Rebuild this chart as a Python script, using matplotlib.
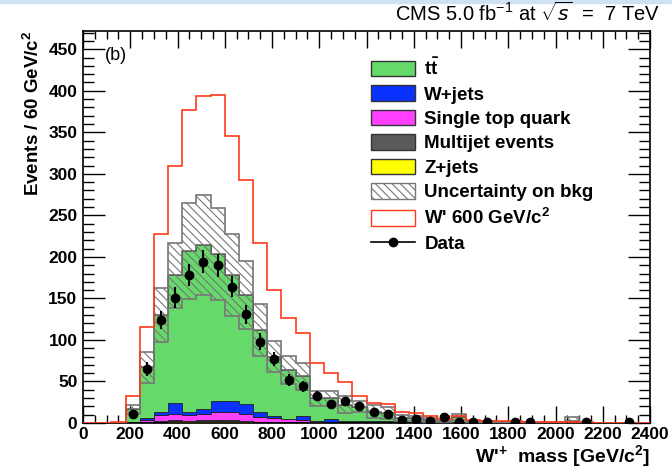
import numpy as np
import matplotlib
matplotlib.use("Agg")
import matplotlib.pyplot as plt
from matplotlib.patches import Patch, Rectangle
from matplotlib.lines import Line2D
from matplotlib.ticker import MultipleLocator

plt.rcParams['font.family'] = ['Liberation Sans', 'DejaVu Sans']
plt.rcParams['mathtext.fontset'] = 'custom'
plt.rcParams['mathtext.rm'] = 'Liberation Sans'
plt.rcParams['mathtext.bf'] = 'Liberation Sans:bold'
plt.rcParams['hatch.linewidth'] = 0.8
plt.rcParams['hatch.color'] = '#555555'

# 60 GeV bins from 0 to 2400
edges = np.arange(0, 2460, 60)

zjets = [0, 0, 0, 0.2, 0.4, 1.8, 2.4, 2.2, 2.4, 2.6, 2.4, 2.0, 1.2, 0.8, 0.6, 0.5, 0.3, 0.2, 0.2, 0.1,
         0.1, 0.1, 0, 0, 0, 0, 0, 0, 0, 0, 0, 0, 0, 0, 0, 0, 0, 0, 0, 0]
multijet = [0, 0, 0, 0.1, 0.3, 0.8, 0.8, 0.8, 0.8, 0.8, 0.8, 0.8, 0.6, 0.5, 0.4, 0.4, 0.2, 0.2, 0.1, 0.1,
            0, 0, 0, 0, 0, 0, 0, 0, 0, 0, 0, 0, 0, 0, 0, 0, 0, 0, 0, 0]
singletop = [0, 0, 0, 0.5, 2.5, 7.0, 8.0, 6.6, 7.2, 9.9, 10.1, 7.6, 5.8, 4.3, 3.4, 3.1, 1.5, 1.4, 1.1, 1.0,
             0.7, 0.7, 0.5, 0.5, 0.4, 0.3, 0.4, 0.2, 0.2, 0.1, 0.1, 0, 0, 0, 0, 0, 0, 0, 0, 0]
wjets = [0, 0, 0, 0.7, 2.8, 3.4, 12.3, 3.9, 6.6, 12.7, 13.7, 12.1, 5.9, 2.4, 0.6, 4.0, 1.0, 2.6, 1.0, 1.8,
         1.2, 1.7, 0.7, 0.7, 0.6, 0.5, 1.2, 0.3, 0.3, 0.2, 0.2, 0.1, 0.1, 0.1, 1.8, 0, 0, 0, 0, 0]
ttbar = [0, 0, 0, 15.0, 61, 117, 154.5, 194, 197.5, 177.6, 151, 131.5, 98.5, 72, 59, 48, 27, 25.6, 19.6, 16.7,
         11.6, 9.5, 4.8, 4.3, 3.0, 1.7, 5.4, 1.0, 0.7, 0.7, 0.5, 0.5, 0.4, 0.3, 0.4, 0.2, 0.1, 0.1, 0.1, 0.1]
bkg_unc = [0, 0, 0, 5.5, 19, 32, 39, 58, 60, 55, 49, 41, 31, 18.5, 17, 16.5, 9, 9, 10, 7,
           7.5, 7, 3.5, 3.5, 2.4, 1.5, 3.8, 1.0, 0.8, 0.6, 0.5, 0.4, 0.3, 0.3, 4.6, 0.2, 0.1, 0.1, 0.1, 0.1]
wprime = [0, 0, 1, 32, 115, 227, 310, 377, 394, 395, 345, 293, 217, 160, 126, 108, 72, 60, 49, 32,
          24, 23, 13, 11.6, 8.4, 4.8, 8.4, 3.6, 2.6, 2.4, 2.0, 1.6, 1.2, 1.0, 1.0, 0.8, 0.6, 0.5, 0.5, 0.4]
data = [0, 0, 0, 11, 65, 124, 151, 178, 194, 190, 164, 131, 98, 77, 52, 44, 33, 23, 26, 20,
        13, 11, 4, 5, 2, 7, 1, 1, 1, 0, 1, 1, 0, 0, 0, 1, 0, 0, 1, 0]

layers = [("Z+jets", zjets, '#ffff00'),
          ("Multijet events", multijet, '#5a5a5a'),
          ("Single top quark", singletop, '#ff40ff'),
          ("W+jets", wjets, '#0a32ff'),
          (r"$\mathbf{t\bar{t}}$", ttbar, '#66d96b')]

fig = plt.figure(figsize=(6.72, 4.70), dpi=100)
fig.patches.append(Rectangle((0, 0.993), 1, 0.007, transform=fig.transFigure,
                             color='#cfe2f3', zorder=0))
ax = fig.add_axes([83/672, 1 - 423/470, (650-83)/672, (423-31)/470])

# stacked backgrounds
base = np.zeros(len(edges) - 1)
for name, vals, col in layers:
    top = base + np.array(vals)
    ax.stairs(top, edges, baseline=base, fill=True, facecolor=col,
              edgecolor='#222222', linewidth=0.6, zorder=2)
    base = top
total = base
ax.stairs(total, edges, color='#666666', linewidth=1.2, zorder=3)

# uncertainty band
unc = np.array(bkg_unc)
ax.stairs(total + unc, edges, baseline=total - unc, fill=True, facecolor='none',
          edgecolor='#777777', hatch='\\\\\\\\', linewidth=1.2, zorder=4)

# W' signal
ax.stairs(wprime, edges, color='#ff3a1a', linewidth=1.2, zorder=5)

# data
d = np.array(data, dtype=float)
centers = 0.5 * (edges[:-1] + edges[1:])
m = d > 0
ax.errorbar(centers[m], d[m], yerr=np.sqrt(d[m]), fmt='o', color='black',
            markersize=6, elinewidth=1.5, capsize=0, zorder=6)

ax.set_xlim(0, 2400)
ax.set_ylim(0, 472)
ax.xaxis.set_major_locator(MultipleLocator(200))
ax.xaxis.set_minor_locator(MultipleLocator(50))
ax.yaxis.set_major_locator(MultipleLocator(50))
ax.yaxis.set_minor_locator(MultipleLocator(10))
ax.tick_params(axis='both', which='both', direction='in', top=True, right=True, width=1)
ax.tick_params(axis='x', which='major', length=12, pad=3)
ax.tick_params(axis='x', which='minor', length=6)
ax.tick_params(axis='y', which='major', length=16, pad=4)
ax.tick_params(axis='y', which='minor', length=8)
for lab in ax.get_xticklabels() + ax.get_yticklabels():
    lab.set_fontweight('bold')
    lab.set_fontsize(12.5)
for sp in ax.spines.values():
    sp.set_linewidth(1.2)

ax.set_xlabel(r"W'$^{\mathbf{+}}$  mass [GeV/c$^{\mathbf{2}}$]", fontsize=14,
              fontweight='bold', loc='right', labelpad=1)
ax.set_ylabel(r"Events / 60 GeV/c$^{\mathbf{2}}$", fontsize=13.5, fontweight='bold',
              loc='top', labelpad=4)

ax.text(0.038, 0.96, "(b)", transform=ax.transAxes, fontsize=13, va='top')
fig.text(660/672, 1 - 13/470, r"CMS 5.0 fb$^{-1}$ at $\sqrt{s}$  =  7 TeV",
         fontsize=14.5, ha='right', va='center')

handles = [Patch(facecolor='#66d96b', edgecolor='#333333'),
           Patch(facecolor='#0a32ff', edgecolor='#333333'),
           Patch(facecolor='#ff40ff', edgecolor='#333333'),
           Patch(facecolor='#5a5a5a', edgecolor='#333333'),
           Patch(facecolor='#ffff00', edgecolor='#333333'),
           Patch(facecolor='white', edgecolor='#777777', hatch='\\\\\\\\'),
           Patch(facecolor='white', edgecolor='#ff3a1a'),
           Line2D([], [], color='black', marker='o', markersize=6, linewidth=1.2)]
labels = [r"$\mathbf{t\bar{t}}$", "W+jets", "Single top quark", "Multijet events",
          "Z+jets", "Uncertainty on bkg", r"W' 600 GeV/c$^{\mathbf{2}}$", "Data"]
leg = ax.legend(handles, labels, loc='upper left', bbox_to_anchor=(371/672, 1 - 58/470),
                bbox_transform=fig.transFigure, frameon=False, borderpad=0,
                borderaxespad=0, handlelength=2.35, handleheight=0.9,
                handletextpad=0.5, labelspacing=0.33,
                prop={'weight': 'bold', 'size': 13.5})

fig.savefig("out.png", dpi=100)
